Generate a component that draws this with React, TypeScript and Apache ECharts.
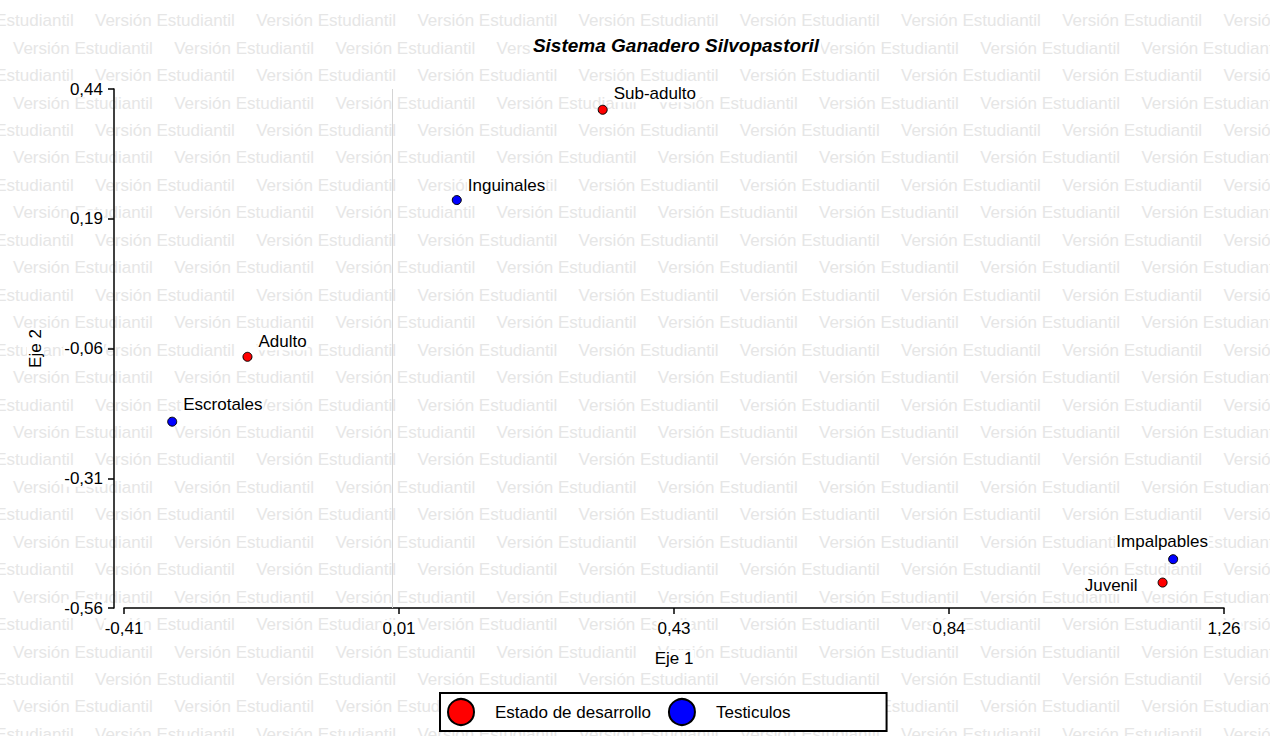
import React, { useEffect, useRef } from "react";
import * as echarts from "echarts";

// ---- data ----
const titleText = "Sistema Ganadero Silvopastoril";
const xAxisName = "Eje 1";
const yAxisName = "Eje 2";
const xTickLabels = ["-0,41", "0,01", "0,43", "0,84", "1,26"];
const yTickLabels = ["-0,56", "-0,31", "-0,06", "0,19", "0,44"];
const xMin = -0.406;
const xMax = 1.26;
const yMin = -0.56;
const yMax = 0.44;

const estadoName = "Estado de desarrollo";
const estadoLabels = ["Sub-adulto", "Adulto", "Juvenil"];
const estadoX = [0.319, -0.219, 1.167];
const estadoY = [0.4, -0.076, -0.511];

const testName = "Testiculos";
const testLabels = ["Inguinales", "Escrotales", "Impalpables"];
const testX = [0.098, -0.333, 1.183];
const testY = [0.226, -0.201, -0.466];

const watermarkText = "Versión Estudiantil";

// ---- styling ----
const FONT = "'Liberation Sans', Arial, Helvetica, sans-serif";
const labelPlacement: Record<string, { position: string; offset: number[] }> = {
  "Sub-adulto": { position: "right", offset: [0, -16] },
  Adulto: { position: "right", offset: [0, -15] },
  Juvenil: { position: "left", offset: [-14, 3] },
  Inguinales: { position: "right", offset: [0, -15] },
  Escrotales: { position: "right", offset: [0, -17] },
  Impalpables: { position: "top", offset: [-11, 1] },
};

const xTickValues = xTickLabels.map((_, i) => xMin + (i * (xMax - xMin)) / (xTickLabels.length - 1));
const yTickValues = yTickLabels.map((s) => parseFloat(s.replace(",", ".")));

function nearestLabel(v: number, vals: number[], labels: string[]) {
  let best = 0;
  for (let i = 1; i < vals.length; i++) {
    if (Math.abs(vals[i] - v) < Math.abs(vals[best] - v)) best = i;
  }
  return labels[best];
}

function buildPoints(names: string[], xs: number[], ys: number[]) {
  return names.map((n, i) => ({
    name: n,
    value: [xs[i], ys[i]],
    label: {
      show: true,
      formatter: n,
      position: labelPlacement[n].position,
      offset: labelPlacement[n].offset,
    },
  }));
}

function buildWatermark() {
  const els: any[] = [];
  const rowStart = 20.7;
  const rowStep = 27.45;
  const period = 161.2;
  for (let k = 0; rowStart + k * rowStep < 750; k++) {
    const base = k % 2 === 0 ? 95 : 13;
    let x = base;
    while (x > -period) x -= period;
    for (; x < 1270; x += period) {
      els.push({
        type: "text",
        x,
        y: rowStart + k * rowStep,
        z: -10,
        silent: true,
        style: {
          text: watermarkText,
          fill: "#e6e6e6",
          fontSize: 17,
          fontFamily: FONT,
          verticalAlign: "middle",
          align: "left",
        },
      });
    }
  }
  return els;
}

export default function App() {
  const ref = useRef<HTMLDivElement>(null);
  useEffect(() => {
    if (!ref.current) return;
    const chart = echarts.init(ref.current, undefined, { renderer: "svg" });
    const labelCommon = {
      color: "#000",
      fontSize: 17,
      fontFamily: FONT,
      backgroundColor: "#fff",
      padding: [0, 1],
    };
    chart.setOption({
      animation: false,
      backgroundColor: "#fff",
      graphic: buildWatermark(),
      title: {
        text: titleText,
        left: 674,
        top: 35,
        textAlign: "center",
        padding: [1, 2],
        backgroundColor: "#fff",
        textStyle: {
          fontSize: 19,
          fontWeight: "bold",
          fontStyle: "italic",
          fontFamily: FONT,
          color: "#000",
        },
      },
      legend: {
        data: [estadoName, testName],
        left: 440,
        top: 693,
        orient: "horizontal",
        icon: "circle",
        itemWidth: 26,
        itemHeight: 26,
        itemGap: 17,
        padding: [5, 96, 5, 7],
        borderColor: "#000",
        borderWidth: 2,
        borderRadius: 0,
        backgroundColor: "#fff",
        selectedMode: false,
        textStyle: {
          fontSize: 17,
          fontFamily: FONT,
          color: "#000",
          padding: [0, 0, 0, 16],
        },
      },
      grid: {
        left: 124,
        right: 46,
        top: 89,
        bottom: 128,
        containLabel: false,
        outerBoundsMode: "none",
      },
      xAxis: {
        type: "value",
        min: xMin,
        max: xMax,
        name: xAxisName,
        nameLocation: "middle",
        nameGap: 42,
        nameTextStyle: { fontSize: 17, fontFamily: FONT, color: "#000", backgroundColor: "#fff", padding: [0, 1] },
        axisLine: { show: true, onZero: false, lineStyle: { color: "#000", width: 1.5 } },
        axisTick: { show: true, inside: false, length: 6, customValues: xTickValues, lineStyle: { color: "#000", width: 1.5 } },
        axisLabel: {
          ...labelCommon,
          margin: 12,
          customValues: xTickValues,
          formatter: (v: number) => nearestLabel(v, xTickValues, xTickLabels),
        },
        splitLine: { show: false },
      },
      yAxis: {
        type: "value",
        min: yMin,
        max: yMax,
        offset: 10,
        name: yAxisName,
        nameLocation: "middle",
        nameGap: 70,
        nameTextStyle: { fontSize: 17, fontFamily: FONT, color: "#000", backgroundColor: "#fff", padding: [0, 1] },
        axisLine: { show: true, onZero: false, lineStyle: { color: "#000", width: 1.5 } },
        axisTick: { show: true, inside: false, length: 6, customValues: yTickValues, lineStyle: { color: "#000", width: 1.5 } },
        axisLabel: {
          ...labelCommon,
          margin: 10,
          customValues: yTickValues,
          formatter: (v: number) => nearestLabel(v, yTickValues, yTickLabels),
        },
        splitLine: { show: false },
      },
      series: [
        {
          name: estadoName,
          type: "scatter",
          symbol: "circle",
          symbolSize: 9,
          clip: false,
          itemStyle: { color: "#ff0000", borderColor: "#000", borderWidth: 1, opacity: 1 },
          label: { ...labelCommon, distance: 5 },
          emphasis: { disabled: true },
          data: buildPoints(estadoLabels, estadoX, estadoY),
          markLine: {
            silent: true,
            symbol: ["none", "none"],
            label: { show: false },
            lineStyle: { color: "#d4d4d4", width: 1, type: "solid" },
            emphasis: { disabled: true },
            data: [
              { xAxis: 0 },
              [{ coord: [-0.42, 0] }, { coord: [xMax, 0] }],
            ],
          },
          z: 3,
        },
        {
          name: testName,
          type: "scatter",
          symbol: "circle",
          symbolSize: 9,
          itemStyle: { color: "#0000ff", borderColor: "#000", borderWidth: 1, opacity: 1 },
          label: { ...labelCommon, distance: 5 },
          emphasis: { disabled: true },
          data: buildPoints(testLabels, testX, testY),
          z: 3,
        },
      ],
    });
    return () => chart.dispose();
  }, []);
  return (
    <div
      ref={ref}
      style={{ position: "absolute", left: 0, top: 0, width: 1270, height: 736 }}
    />
  );
}
